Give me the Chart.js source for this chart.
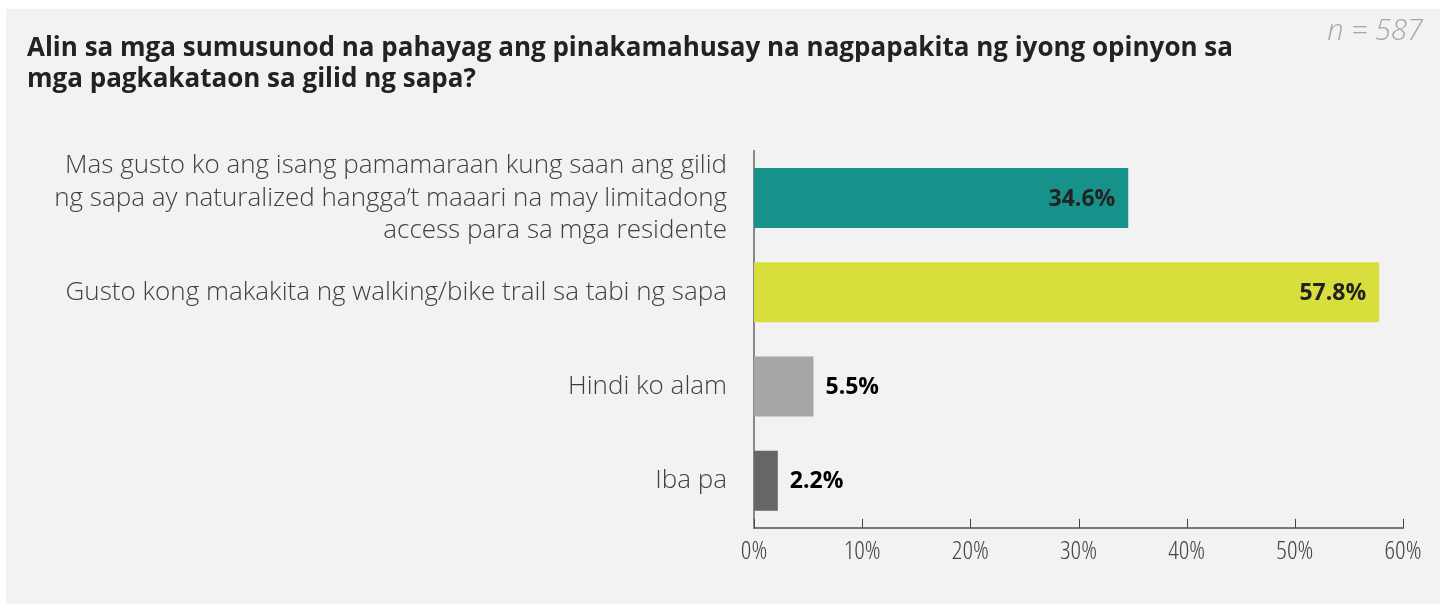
<!DOCTYPE html>
<html lang="en">
<head>
<meta charset="UTF-8">
<title>Opinyon sa gilid ng sapa</title>
<script src="https://cdn.jsdelivr.net/npm/chart.js@4.4.1/dist/chart.umd.min.js"></script>
<style>
    html, body { margin: 0; padding: 0; background: #fff; }
    .panel { position: absolute; left: 6px; top: 9px; width: 1434px; height: 595px; background: #f2f2f2; }
    canvas { display: block; }
</style>
</head>
<body>
<div class="panel"><canvas id="chart" width="1434" height="595"></canvas></div>
<script>
// data
const titleLines = [
    "Alin sa mga sumusunod na pahayag ang pinakamahusay na nagpapakita ng iyong opinyon sa",
    "mga pagkakataon sa gilid ng sapa?"
];
const sampleSize = "n = 587";
const categories = [
    ["Mas gusto ko ang isang pamamaraan kung saan ang gilid",
     "ng sapa ay naturalized hangga\u2019t maaari na may limitadong",
     "access para sa mga residente"],
    "Gusto kong makakita ng walking/bike trail sa tabi ng sapa",
    "Hindi ko alam",
    "Iba pa"
];
const percentages = [34.6, 57.8, 5.5, 2.2];
const barColors = ["#17928a", "#d8de3c", "#a6a6a6", "#666666"];
const xMax = 60;
const xStep = 10;

const FAMILY = "'Open Sans', 'Noto Sans', sans-serif";

// title + n label
const headerPlugin = {
    id: 'header',
    afterDraw(chart) {
        const ctx = chart.ctx;
        ctx.save();
        ctx.fillStyle = '#222';
        ctx.font = "bold 26px " + FAMILY;
        ctx.textAlign = 'left';
        ctx.textBaseline = 'alphabetic';
        titleLines.forEach(function (line, i) {
            ctx.fillText(line, 21, 47 + i * 31);
        });
        ctx.fillStyle = '#a6a6a6';
        ctx.font = "italic 300 29px " + FAMILY;
        ctx.textAlign = 'right';
        ctx.fillText(sampleSize, 1417, 31);
        ctx.restore();
    }
};

// value labels on the bars
const valueLabels = {
    id: 'valueLabels',
    afterDatasetsDraw(chart) {
        const ctx = chart.ctx;
        const meta = chart.getDatasetMeta(0);
        ctx.save();
        ctx.font = "bold 23px " + FAMILY;
        ctx.textBaseline = 'middle';
        meta.data.forEach(function (bar, i) {
            const v = percentages[i];
            const txt = v.toFixed(1) + '%';
            if (v > 20) {
                ctx.textAlign = 'right';
                ctx.fillStyle = '#222';
                ctx.fillText(txt, bar.x - 13, bar.y + 1);
            } else {
                ctx.textAlign = 'left';
                ctx.fillStyle = '#000';
                ctx.fillText(txt, bar.x + 12, bar.y + 1);
            }
        });
        ctx.restore();
    }
};

// small tick marks pointing up from the x axis
const upTicks = {
    id: 'upTicks',
    afterDraw(chart) {
        const ctx = chart.ctx;
        const xs = chart.scales.x;
        const bottom = chart.chartArea.bottom;
        ctx.save();
        ctx.strokeStyle = '#444';
        ctx.lineWidth = 1;
        xs.ticks.forEach(function (t) {
            const px = Math.round(xs.getPixelForValue(t.value)) + 0.5;
            ctx.beginPath();
            ctx.moveTo(px, bottom - 9);
            ctx.lineTo(px, bottom);
            ctx.stroke();
        });
        ctx.restore();
    }
};

new Chart(document.getElementById('chart'), {
    type: 'bar',
    data: {
        labels: categories,
        datasets: [{
            data: percentages,
            backgroundColor: barColors,
            borderWidth: 0,
            categoryPercentage: 1,
            barPercentage: 0.637
        }]
    },
    options: {
        indexAxis: 'y',
        responsive: false,
        animation: false,
        layout: { padding: { top: 142, right: 37, bottom: 0, left: 0 } },
        plugins: {
            legend: { display: false },
            title: { display: false },
            tooltip: { enabled: false }
        },
        scales: {
            x: {
                min: 0,
                max: xMax,
                ticks: {
                    stepSize: xStep,
                    padding: 8,
                    color: '#444',
                    font: { family: FAMILY, size: 26, weight: '300 condensed' },
                    callback: function (v) { return v + '%'; }
                },
                grid: { display: false, drawTicks: false },
                border: { display: true, color: '#777', width: 2 },
                afterFit: function (scale) { scale.height = 76; }
            },
            y: {
                ticks: {
                    autoSkip: false,
                    padding: 27,
                    color: '#404040',
                    font: { family: FAMILY, size: 26, weight: '300', lineHeight: 1.26 }
                },
                grid: { display: false, drawTicks: false },
                border: { display: true, color: '#888', width: 2 },
                afterFit: function (scale) { scale.width = 748; }
            }
        }
    },
    plugins: [headerPlugin, valueLabels, upTicks]
});
</script>
</body>
</html>
